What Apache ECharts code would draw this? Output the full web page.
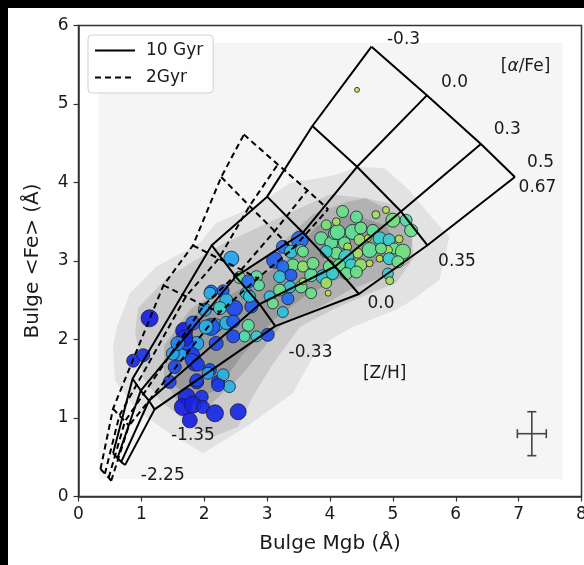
<!DOCTYPE html>
<html>
<head>
<meta charset="utf-8">
<script src="https://cdn.jsdelivr.net/npm/echarts@6/dist/echarts.min.js"></script>
<style>
  html, body { margin: 0; padding: 0; background: #000; width: 584px; height: 565px; overflow: hidden; }
  #chart { position: absolute; left: 8px; top: 8px; width: 576px; height: 557px; background: #fff; }
</style>
</head>
<body>
<div id="chart"></div>
<script>
// model grid nodes, rows = [alpha/Fe] -0.3, 0.0, 0.3, 0.5 ; cols = [Z/H] -2.25 .. 0.67
var zhValues = ['-2.25', '-1.35', '-0.33', '0.0', '0.35', '0.67']
var afeValues = ['-0.3', '0.0', '0.3', '0.5']

var gyr10Mgb = [
  [0.55, 0.86, 2.12, 3.00, 3.72, 4.66],
  [0.62, 0.99, 2.50, 3.57, 4.43, 5.54],
  [0.68, 1.12, 2.88, 4.08, 5.13, 6.40],
  [0.74, 1.21, 3.13, 4.46, 5.55, 6.94]
]
var gyr10Fe = [
  [0.55, 1.50, 3.20, 3.82, 4.72, 5.73],
  [0.49, 1.35, 2.80, 3.36, 4.20, 5.11],
  [0.44, 1.22, 2.45, 2.93, 3.63, 4.49],
  [0.40, 1.11, 2.17, 2.58, 3.20, 4.07]
]
var gyr2Mgb = [
  [0.35, 0.55, 1.35, 1.82, 2.27, 2.63],
  [0.42, 0.65, 1.71, 2.23, 2.72, 3.17],
  [0.48, 0.74, 1.99, 2.59, 3.12, 3.64],
  [0.52, 0.80, 2.25, 2.85, 3.40, 3.97]
]
var gyr2Fe = [
  [0.35, 1.12, 2.69, 3.20, 4.07, 4.61],
  [0.29, 1.03, 2.55, 3.03, 3.70, 4.23],
  [0.24, 0.96, 2.43, 2.89, 3.38, 3.90],
  [0.20, 0.90, 2.35, 2.78, 3.15, 3.66]
]

// bulges: Mgb, <Fe>, marker size, colour tone (0 blue .. 1 yellow)
var bulgeMgb = [1.13, 0.87, 1.03, 1.68, 2.43, 2.56, 2.83, 2.87, 2.70, 2.67, 2.11, 2.30, 2.48, 2.75, 2.35, 2.25, 2.19, 2.11, 2.35, 2.46,
  2.70, 2.64, 2.83, 3.01, 2.46, 2.19, 2.03, 1.88, 1.80, 1.61, 1.85, 1.53, 2.09, 1.45, 1.88, 2.22, 2.40, 2.30, 1.72, 2.01,
  1.82, 1.50, 1.80, 1.90, 1.88, 2.06, 2.22, 1.72, 1.96, 1.66, 1.82, 1.98, 2.17, 1.77, 2.54, 1.69, 1.58,
  3.12, 3.25, 3.52, 3.38, 3.54, 3.41, 3.57, 3.25, 3.20, 3.38, 3.54, 3.36, 3.20, 3.04, 3.33, 3.25, 3.09, 3.70, 3.73, 3.89,
  3.99, 3.86, 4.02, 3.94, 4.07, 4.10, 2.72, 2.09, 3.70, 3.57, 3.57,
  4.20, 4.42, 4.73, 4.89, 5.00, 5.21, 5.29, 4.12, 4.36, 4.49, 4.68, 4.23, 4.47, 4.60, 4.79, 4.94, 5.02, 5.16, 4.92, 3.94,
  4.28, 4.44, 4.63, 4.81, 4.26, 4.34, 4.49, 4.63, 4.79, 4.94, 5.08, 4.15, 4.04, 3.94, 4.26, 4.42, 4.92, 3.97, 4.43, 4.10,
  5.10, 4.95]
var bulgeFe = [2.27, 1.73, 1.80, 2.11, 3.03, 2.79, 2.80, 2.69, 2.74, 2.59, 2.61, 2.62, 2.40, 2.42, 2.50, 2.40, 2.18, 2.16, 2.21, 2.23,
  2.18, 2.04, 2.04, 2.06, 2.04, 1.95, 2.16, 1.95, 1.80, 1.82, 1.70, 1.65, 1.61, 1.46, 1.46, 1.46, 1.40, 1.55, 1.95, 2.38,
  2.21, 1.82, 1.74, 1.68, 1.48, 1.57, 1.42, 1.27, 1.27, 1.14, 1.17, 1.14, 1.06, 0.97, 1.08, 2.02, 1.95,
  3.01, 3.18, 3.27, 3.12, 3.14, 2.95, 2.93, 2.93, 2.80, 2.82, 2.67, 2.67, 2.63, 2.55, 2.52, 2.35, 2.46, 2.82, 2.97, 2.80,
  2.93, 3.29, 3.23, 3.46, 3.35, 3.10, 2.55, 2.59, 2.59, 3.12, 2.74,
  3.63, 3.56, 3.59, 3.65, 3.52, 3.52, 3.39, 3.37, 3.37, 3.42, 3.39, 3.23, 3.27, 3.29, 3.29, 3.27, 3.16, 3.12, 3.14, 3.12,
  3.18, 3.10, 3.14, 3.16, 3.05, 2.95, 2.95, 2.97, 3.03, 3.03, 2.99, 2.95, 2.84, 2.72, 2.84, 2.86, 2.84, 2.59, 5.18, 3.50,
  3.28, 2.75]
var bulgeSize = [17, 13, 13, 17, 15, 12, 12, 11, 13, 12, 13, 12, 16, 13, 13, 13, 13, 17, 13, 13,
  12, 11, 11, 13, 13, 14, 14, 14, 16, 14, 16, 13, 13, 13, 14, 13, 12, 12, 14, 13,
  14, 13, 13, 13, 13, 12, 13, 17, 13, 17, 17, 13, 17, 15, 16, 16, 14,
  16, 13, 17, 13, 11, 12, 11, 12, 12, 12, 12, 12, 12, 11, 12, 11, 11, 13, 12, 14,
  12, 13, 13, 10, 12, 12, 12, 12, 11, 11, 7,
  12, 12, 8, 7, 14, 12, 13, 15, 15, 12, 12, 12, 11, 7, 13, 12, 11, 15, 9, 12,
  8, 10, 15, 11, 15, 12, 12, 7, 7, 12, 12, 12, 12, 11, 12, 12, 11, 6, 5, 8,
  8, 8]
var bulgeTone = [0.02, 0.05, 0.08, 0.02, 0.40, 0.75, 0.72, 0.70, 0.25, 0.50, 0.25, 0.20, 0.15, 0.20, 0.45, 0.55, 0.45, 0.18, 0.45, 0.20,
  0.70, 0.65, 0.55, 0.15, 0.15, 0.15, 0.45, 0.40, 0.10, 0.40, 0.08, 0.15, 0.15, 0.12, 0.10, 0.10, 0.45, 0.45, 0.12, 0.40,
  0.20, 0.40, 0.15, 0.12, 0.12, 0.40, 0.10, 0.05, 0.08, 0.02, 0.03, 0.06, 0.05, 0.02, 0.05, 0.05, 0.30,
  0.20, 0.25, 0.25, 0.50, 0.75, 0.75, 0.85, 0.25, 0.50, 0.20, 0.75, 0.50, 0.75, 0.50, 0.25, 0.50, 0.75, 0.70, 0.75, 0.50,
  0.75, 0.72, 0.72, 0.80, 0.75, 0.75, 0.50, 0.45, 0.75, 0.75, 0.95,
  0.75, 0.72, 0.90, 0.95, 0.78, 0.65, 0.75, 0.72, 0.72, 0.75, 0.72, 0.75, 0.85, 0.95, 0.55, 0.55, 0.75, 0.78, 0.92, 0.55,
  0.92, 0.90, 0.72, 0.75, 0.55, 0.55, 0.85, 0.95, 0.95, 0.55, 0.75, 0.75, 0.55, 0.88, 0.75, 0.75, 0.55, 0.95, 1.00, 0.90,
  0.92, 0.90]

// density contours (outer to inner)
var contourLevels = [
  [[0.32, 0.22], [7.70, 0.22], [7.70, 5.78], [0.32, 5.78]],
  [[0.58, 1.48], [0.55, 1.91], [0.61, 2.16], [0.82, 2.59], [1.24, 2.93], [1.93, 3.23], [2.19, 3.48], [2.88, 3.73], [3.36, 3.99],
    [4.10, 4.10], [4.44, 4.20], [4.87, 4.18], [5.26, 3.90], [5.61, 3.56], [5.90, 3.31], [5.74, 2.76], [5.31, 2.50], [5.05, 2.38],
    [4.36, 2.16], [3.99, 1.99], [3.73, 1.78], [3.41, 1.32], [2.67, 0.89], [1.98, 0.55], [1.45, 0.81], [0.92, 1.10]],
  [[1.03, 1.51], [0.90, 2.10], [0.95, 2.40], [1.42, 2.80], [2.30, 3.22], [3.48, 3.66], [4.00, 3.85], [4.58, 3.80], [5.01, 3.72],
    [5.26, 3.44], [5.34, 3.05], [5.05, 2.72], [4.63, 2.59], [4.04, 2.38], [3.52, 2.16], [3.10, 1.70], [2.77, 1.27], [2.54, 0.89],
    [2.14, 0.76], [1.72, 0.95], [1.29, 1.23]],
  [[1.36, 1.50], [1.36, 1.92], [1.77, 2.38], [2.54, 2.80], [3.20, 3.20], [3.73, 3.60], [4.31, 3.76], [4.57, 3.80], [5.14, 3.56],
    [5.31, 3.27], [5.26, 2.97], [4.84, 2.80], [4.31, 2.63], [3.94, 2.46], [3.24, 2.19], [2.60, 1.55], [2.06, 1.14], [1.59, 1.18]],
  [[1.55, 1.40], [1.50, 1.95], [1.90, 2.35], [2.60, 2.65], [3.30, 3.00], [3.80, 3.45], [4.35, 3.60], [4.90, 3.45], [5.05, 3.20],
    [4.80, 3.00], [4.20, 2.80], [3.60, 2.55], [3.10, 2.25], [2.60, 1.80], [2.20, 1.35], [1.80, 1.25]]
]
var contourColors = ['#f5f5f5', '#e2e2e2', '#cbcbcb', '#b2b2b2', '#9a9a9a']

// typical error: centre x, centre y, half width x, half width y
var errorBar = [[7.21, 0.80, 0.23, 0.28]]

var noteText = ['-0.3', '0.0', '0.3', '0.5', '0.67', '[{i|α}/Fe]', '0.35', '0.0', '-0.33', '[Z/H]', '-1.35', '-2.25']
var noteX = [5.17, 5.98, 6.82, 7.35, 7.30, 7.11, 6.02, 4.81, 3.69, 4.87, 1.82, 1.34]
var noteY = [5.82, 5.27, 4.67, 4.25, 3.93, 5.48, 2.99, 2.46, 1.83, 1.57, 0.78, 0.27]

var font = '"DejaVu Sans", sans-serif'

function modelLines(name, mgb, fe, dashed) {
  var out = []
  var style = {
    color: '#000',
    width: 2,
    type: dashed ? [6, 4] : 'solid'
  }
  function add(points) {
    out.push({
      name: name,
      type: 'line',
      data: points,
      symbol: 'none',
      silent: true,
      z: 10,
      itemStyle: { color: '#000' },
      lineStyle: style
    })
  }
  // constant [alpha/Fe]
  mgb.forEach(function (row, i) {
    add(row.map(function (x, j) { return [x, fe[i][j]] }))
  })
  // constant [Z/H]
  zhValues.forEach(function (z, j) {
    add(mgb.map(function (row, i) { return [row[j], fe[i][j]] }))
  })
  return out
}

var chart = echarts.init(document.getElementById('chart'))

var bulgeData = bulgeMgb.map(function (x, i) {
  return [x, bulgeFe[i], bulgeSize[i], bulgeTone[i]]
})

var series = [
  {
    type: 'custom',
    z: 1,
    silent: true,
    data: contourLevels.map(function (c) { return c[0] }),
    renderItem: function (params, api) {
      var pts = contourLevels[params.dataIndex].map(function (v) { return api.coord(v) })
      return { type: 'polygon', shape: { points: pts }, style: { fill: contourColors[params.dataIndex] } }
    }
  },
  {
    name: 'bulges',
    type: 'scatter',
    z: 3,
    data: bulgeData,
    symbolSize: function (v) { return v[2] },
    itemStyle: { borderColor: 'rgba(25,25,45,0.85)', borderWidth: 1, opacity: 0.92 }
  }
]
series = series.concat(modelLines('10 Gyr', gyr10Mgb, gyr10Fe, false))
series = series.concat(modelLines('2Gyr', gyr2Mgb, gyr2Fe, true))
series.push({
  type: 'custom',
  z: 11,
  silent: true,
  data: errorBar,
  renderItem: function (params, api) {
    var x = api.value(0), y = api.value(1), dx = api.value(2), dy = api.value(3)
    var l = api.coord([x - dx, y]), r = api.coord([x + dx, y])
    var t = api.coord([x, y + dy]), b = api.coord([x, y - dy])
    var st = { stroke: '#444', lineWidth: 1.6 }
    var cap = 4.5
    return {
      type: 'group',
      children: [
        { type: 'line', shape: { x1: l[0], y1: l[1], x2: r[0], y2: r[1] }, style: st },
        { type: 'line', shape: { x1: t[0], y1: t[1], x2: b[0], y2: b[1] }, style: st },
        { type: 'line', shape: { x1: l[0], y1: l[1] - cap, x2: l[0], y2: l[1] + cap }, style: st },
        { type: 'line', shape: { x1: r[0], y1: r[1] - cap, x2: r[0], y2: r[1] + cap }, style: st },
        { type: 'line', shape: { x1: t[0] - cap, y1: t[1], x2: t[0] + cap, y2: t[1] }, style: st },
        { type: 'line', shape: { x1: b[0] - cap, y1: b[1], x2: b[0] + cap, y2: b[1] }, style: st }
      ]
    }
  }
})
series.push({
  type: 'custom',
  z: 12,
  silent: true,
  data: noteX.map(function (x, i) { return [x, noteY[i]] }),
  renderItem: function (params, api) {
    var p = api.coord([api.value(0), api.value(1)])
    return {
      type: 'text',
      x: p[0],
      y: p[1],
      style: {
        text: noteText[params.dataIndex],
        fill: '#1a1a1a',
        fontSize: 17,
        fontFamily: font,
        align: 'center',
        verticalAlign: 'middle',
        rich: { i: { fontStyle: 'italic', fontSize: 17, fontFamily: font, fill: '#1a1a1a' } }
      }
    }
  }
})

chart.setOption({
  animation: false,
  textStyle: { fontFamily: font },
  grid: {
    left: 70.5,
    top: 17.5,
    right: 2.5,
    bottom: 68.5,
    show: true,
    borderColor: '#333',
    borderWidth: 1.5,
    backgroundColor: '#fff',
    outerBoundsMode: 'none'
  },
  legend: {
    data: ['10 Gyr', '2Gyr'],
    orient: 'vertical',
    left: 80,
    top: 27,
    itemWidth: 40,
    itemHeight: 14,
    itemGap: 10,
    padding: [7, 10, 7, 6],
    borderColor: '#d0d0d0',
    borderWidth: 1,
    borderRadius: 4,
    backgroundColor: 'rgba(255,255,255,0.85)',
    selectedMode: false,
    itemStyle: { color: 'rgba(0,0,0,0)', borderColor: 'rgba(0,0,0,0)', borderWidth: 0 },
    lineStyle: { width: 2, color: '#000' },
    textStyle: { fontSize: 17, color: '#1a1a1a', fontFamily: font, padding: [0, 0, 0, 6] }
  },
  visualMap: {
    show: false,
    type: 'continuous',
    seriesIndex: 1,
    dimension: 3,
    min: 0,
    max: 1,
    inRange: { color: ['#1616e0', '#1f5cf0', '#22a4ee', '#3edcc0', '#78e276', '#d2de3a'] }
  },
  xAxis: {
    type: 'value',
    min: 0,
    max: 8,
    interval: 1,
    name: 'Bulge Mgb (Å)',
    nameLocation: 'middle',
    nameGap: 37,
    nameTextStyle: { fontSize: 20, color: '#1a1a1a', fontFamily: font },
    axisLine: { lineStyle: { color: '#333', width: 1.5 } },
    axisTick: { length: 5, lineStyle: { color: '#333', width: 1.2 } },
    axisLabel: { fontSize: 17, color: '#1a1a1a', margin: 10, fontFamily: font },
    splitLine: { show: false }
  },
  yAxis: {
    type: 'value',
    min: 0,
    max: 6,
    interval: 1,
    name: 'Bulge <Fe> (Å)',
    nameLocation: 'middle',
    nameGap: 36,
    nameTextStyle: { fontSize: 20, color: '#1a1a1a', fontFamily: font },
    axisLine: { lineStyle: { color: '#333', width: 1.5 } },
    axisTick: { length: 5, lineStyle: { color: '#333', width: 1.2 } },
    axisLabel: { fontSize: 17, color: '#1a1a1a', margin: 10, fontFamily: font },
    splitLine: { show: false }
  },
  series: series
})
</script>
</body>
</html>
